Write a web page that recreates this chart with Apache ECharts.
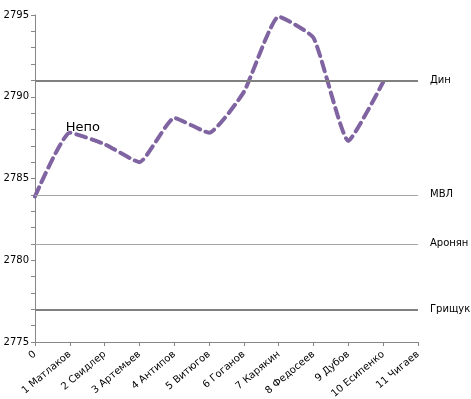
<!DOCTYPE html>
<html lang="ru">
<head>
	<meta charset="utf-8">
	<title>Рейтинг</title>
	<script src="https://cdn.jsdelivr.net/npm/echarts@6/dist/echarts.min.js"></script>
	<style>
		html, body { margin: 0; padding: 0; background: #fff; }
		#main { width: 471px; height: 399px; }
	</style>
</head>
<body>
<div id="main"></div>
<script type="text/javascript">
	// категории по оси X
	var players = ['0', '1 Матлаков', '2 Свидлер', '3 Артемьев', '4 Антипов', '5 Витюгов',
		'6 Гоганов', '7 Карякин', '8 Федосеев', '9 Дубов', '10 Есипенко', '11 Чигаев'];
	// рейтинг после каждой партии
	var rating = [2783.9, 2787.8, 2787.1, 2786.0, 2788.7, 2787.8, 2790.3, 2794.9, 2793.6, 2787.3, 2790.9];
	var pointLabels = ['', 'Непо', '', '', '', '', '', '', '', '', ''];
	// горизонтальные линии
	var refNames = ['Дин', 'МВЛ', 'Аронян', 'Грищук'];
	var refValues = [2791, 2784, 2781, 2777];
	var refBold = [true, false, false, true];

	var myChart = echarts.init(document.getElementById('main'));

	var pts = [];
	for (var i = 0; i < rating.length; i++) {
		if (pointLabels[i]) {
			pts.push({
				coord: [i, rating[i]],
				value: pointLabels[i],
				symbolSize: 0,
				label: {
					show: true,
					formatter: pointLabels[i],
					position: [-4, -12],
					fontSize: 13,
					color: '#000',
					fontFamily: 'DejaVu Sans'
				}
			});
		}
	}

	var marks = [];
	for (var j = 0; j < refNames.length; j++) {
		marks.push({
			yAxis: refValues[j],
			name: refNames[j],
			lineStyle: {
				color: refBold[j] ? '#808080' : '#a6a6a6',
				width: refBold[j] ? 2 : 1,
				type: 'solid'
			},
			label: {
				show: true,
				position: 'end',
				distance: 12,
				formatter: refNames[j],
				color: '#000',
				fontSize: 10,
				fontFamily: 'DejaVu Sans'
			}
		});
	}

	var option = {
		backgroundColor: '#fff',
		animation: false,
		grid: { left: 35, right: 53, top: 15, bottom: 57, outerBoundsMode: 'none', containLabel: false },
		xAxis: {
			type: 'category',
			data: players,
			boundaryGap: false,
			axisLine: { lineStyle: { color: '#868686', width: 1 } },
			axisTick: { show: true, length: 4, alignWithLabel: true, lineStyle: { color: '#868686' } },
			axisLabel: {
				rotate: 40,
				interval: 0,
				fontSize: 10,
				color: '#000',
				margin: 11,
				fontFamily: 'DejaVu Sans'
			},
			splitLine: { show: false }
		},
		yAxis: {
			type: 'value',
			min: 2775,
			max: 2795,
			interval: 1,
			axisLine: { show: true, lineStyle: { color: '#868686', width: 1 } },
			axisTick: { show: true, length: 4, lineStyle: { color: '#868686' } },
			axisLabel: {
				fontSize: 10,
				color: '#000',
				margin: 6,
				fontFamily: 'DejaVu Sans',
				formatter: function (v) { return v % 5 === 0 ? String(v) : ''; }
			},
			splitLine: { show: false }
		},
		series: [{
			type: 'line',
			data: rating,
			smooth: 0.15,
			symbol: 'none',
			lineStyle: {
				color: '#8064A2',
				width: 4,
				type: [10, 6],
				cap: 'round'
			},
			markPoint: {
				silent: true,
				symbol: 'circle',
				symbolSize: 0,
				data: pts
			},
			markLine: {
				silent: true,
				symbol: 'none',
				data: marks
			},
			z: 3
		}]
	};
	myChart.setOption(option);
</script>
</body>
</html>
